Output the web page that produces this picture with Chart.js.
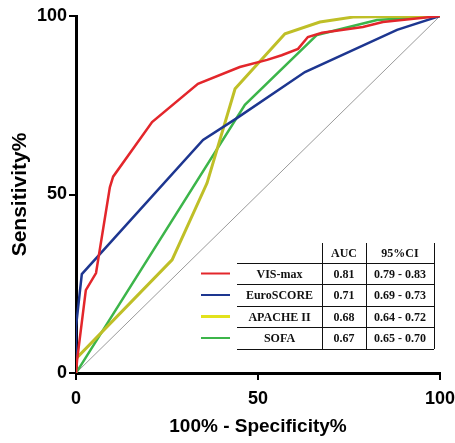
<!DOCTYPE html>
<html>
<head>
<meta charset="utf-8">
<script src="https://cdn.jsdelivr.net/npm/chart.js@4.4.0/dist/chart.umd.min.js"></script>
<style>
  html, body { margin: 0; padding: 0; background: #fff; }
  #wrap { width: 455px; height: 443px; }
</style>
</head>
<body>
<div id="wrap"><canvas id="chart" width="455" height="443"></canvas></div>
<script>
'use strict'

// ************* Data ****************
let seriesNames = ['VIS-max', 'EuroSCORE', 'APACHE II', 'SOFA'];
let aucValues = ['0.81', '0.71', '0.68', '0.67'];
let ciValues = ['0.79 - 0.83', '0.69 - 0.73', '0.64 - 0.72', '0.65 - 0.70'];

// 100% - specificity (x) and sensitivity (y) for each curve
let visX = [0, 0.3, 2.7, 5.5, 9.3, 10.2, 20.9, 33.5, 45, 52.5, 56.5, 61, 63.7, 67.6, 78.8, 84.3, 100];
let visY = [0, 3.6, 23.2, 28, 52, 55, 70.3, 81, 85.7, 87.7, 89, 90.8, 94.1, 95.3, 96.9, 98.3, 100];
let euroX = [0, 0, 1.6, 34.9, 44.2, 62.9, 88.2, 100];
let euroY = [0, 13, 27.7, 65.3, 71.4, 84.3, 96.1, 100];
let apacheX = [0, 0, 26.4, 36, 43.7, 57.4, 67, 76.1, 100];
let apacheY = [0, 4, 31.7, 53.2, 79.6, 95, 98.3, 99.7, 100];
let sofaX = [0, 46.4, 66.2, 82.7, 100];
let sofaY = [0, 75.1, 94.7, 98.9, 100];
let refX = [0, 100];
let refY = [0, 100];

let xTicks = [0, 50, 100];
let yTicks = [0, 50, 100];

// ************* Styles ****************
let lineColors = ['#e3262b', '#1d3690', '#bfbf27', '#3cb54a'];
let legendColors = ['#e3262b', '#1d3690', '#e2e21c', '#3cb54a'];
let lineWidths = [2.5, 2.5, 3, 2.5];
let legendWidths = [2, 2, 3, 2];

function toPoints(xs, ys) {
  let pts = [];
  for (let i = 0; i < xs.length; i++) {
    pts.push({ x: xs[i], y: ys[i] });
  }
  return pts;
}

let curves = [
  toPoints(visX, visY),
  toPoints(euroX, euroY),
  toPoints(apacheX, apacheY),
  toPoints(sofaX, sofaY)
];

let datasets = [];
for (let i = 0; i < curves.length; i++) {
  datasets.push({
    label: seriesNames[i],
    data: curves[i],
    borderColor: lineColors[i],
    borderWidth: lineWidths[i],
    pointRadius: 0,
    tension: 0,
    fill: false
  });
}
datasets.push({
  label: 'reference',
  data: toPoints(refX, refY),
  borderColor: '#9a9a9a',
  borderWidth: 1,
  pointRadius: 0,
  tension: 0,
  fill: false
});

// ************* Table legend plugin ****************
let tablePlugin = {
  id: 'aucTable',
  afterDatasetsDraw(chart) {
    let ctx = chart.ctx;
    let left = 237, c1 = 322, c2 = 366, right = 434;
    let rows = [243, 263, 284, 306, 327, 349];
    ctx.save();
    ctx.strokeStyle = '#111';
    ctx.lineWidth = 1;
    ctx.beginPath();
    for (let r = 1; r < rows.length; r++) {
      ctx.moveTo(left, rows[r] + 0.5);
      ctx.lineTo(right, rows[r] + 0.5);
    }
    [c1, c2, right].forEach(function (cx) {
      ctx.moveTo(cx + 0.5, rows[0]);
      ctx.lineTo(cx + 0.5, rows[rows.length - 1]);
    });
    ctx.stroke();

    ctx.fillStyle = '#111';
    ctx.font = 'bold 12px "Liberation Serif", "Times New Roman", serif';
    ctx.textAlign = 'center';
    ctx.textBaseline = 'middle';
    ctx.fillText('AUC', (c1 + c2) / 2, (rows[0] + rows[1]) / 2 + 1);
    ctx.fillText('95%CI', (c2 + right) / 2, (rows[0] + rows[1]) / 2 + 1);
    for (let i = 0; i < seriesNames.length; i++) {
      let cy = (rows[i + 1] + rows[i + 2]) / 2 + 1;
      ctx.fillText(seriesNames[i], (left + c1) / 2, cy);
      ctx.fillText(aucValues[i], (c1 + c2) / 2, cy);
      ctx.fillText(ciValues[i], (c2 + right) / 2, cy);

      ctx.beginPath();
      ctx.strokeStyle = legendColors[i];
      ctx.lineWidth = legendWidths[i];
      ctx.moveTo(201, cy - 1);
      ctx.lineTo(230, cy - 1);
      ctx.stroke();
    }
    ctx.restore();
  }
};

// ************* Chart ****************
let axisFont = { family: '"Liberation Sans", Arial, sans-serif', weight: 'bold', size: 18 };

let myChart = new Chart(document.getElementById('chart'), {
  type: 'line',
  data: { datasets: datasets },
  plugins: [tablePlugin],
  options: {
    responsive: false,
    animation: false,
    layout: { padding: { top: 16, right: 15, left: 0, bottom: 0 } },
    plugins: {
      legend: { display: false },
      tooltip: { enabled: false }
    },
    scales: {
      x: {
        type: 'linear',
        min: 0,
        max: 100,
        afterFit(scale) {
          scale.height = 70;
          scale.paddingRight = 0;
          scale.paddingLeft = 0;
        },
        afterBuildTicks(scale) { scale.ticks = xTicks.map(v => ({ value: v })); },
        border: { display: true, color: '#000', width: 3 },
        grid: { drawOnChartArea: false, drawTicks: true, tickLength: 7, color: '#000', lineWidth: 2 },
        ticks: { color: '#000', font: axisFont, padding: 8, maxRotation: 0 },
        title: {
          display: true,
          text: '100% - Specificity%',
          color: '#000',
          font: { family: '"Liberation Sans", Arial, sans-serif', weight: 'bold', size: 19 },
          padding: { top: 0, bottom: 5 }
        }
      },
      y: {
        type: 'linear',
        min: 0,
        max: 100,
        afterFit(scale) {
          scale.width = 76;
          scale.paddingTop = 0;
          scale.paddingBottom = 0;
        },
        afterBuildTicks(scale) { scale.ticks = yTicks.map(v => ({ value: v })); },
        border: { display: true, color: '#000', width: 3 },
        grid: { drawOnChartArea: false, drawTicks: true, tickLength: 7, color: '#000', lineWidth: 2 },
        ticks: { color: '#000', font: axisFont, padding: 2 },
        title: {
          display: true,
          text: 'Sensitivity%',
          color: '#000',
          font: { family: '"Liberation Sans", Arial, sans-serif', weight: 'bold', size: 21 },
          padding: { top: 8, bottom: 0 }
        }
      }
    }
  }
});
</script>
</body>
</html>
